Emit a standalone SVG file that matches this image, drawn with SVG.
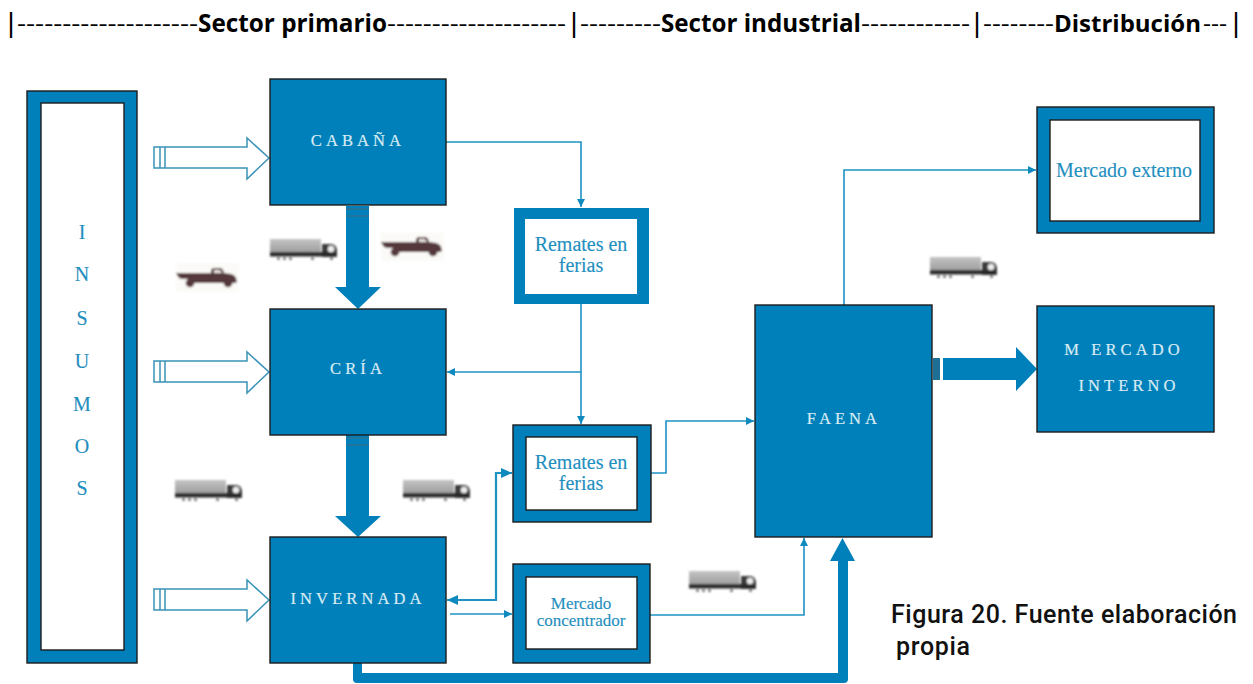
<svg xmlns="http://www.w3.org/2000/svg" xmlns:xlink="http://www.w3.org/1999/xlink" width="1253" height="684" viewBox="0 0 1253 684">
<style>
.box{fill:#0080ba;stroke:#1c1c1c;stroke-width:1.4}
.in{fill:#fff;stroke:#1c1c1c;stroke-width:1.4}
.lbl{font-family:"Liberation Serif",serif;font-size:16.5px;fill:#d9ecf4;text-anchor:middle;letter-spacing:4.1px;stroke:#d9ecf4;stroke-width:.2}
.dk{font-family:"Liberation Serif",serif;font-size:20px;fill:#1f8fc0;text-anchor:middle;stroke:#1f8fc0;stroke-width:.15}
.hd{font-family:"Open Sans",sans-serif;font-size:24px;fill:#000}
.hb{font-weight:700;font-size:25px}
.pp{font-family:"Liberation Sans",sans-serif;font-size:27px;fill:#000}
.cap{font-family:Roboto,sans-serif;font-size:25px;font-weight:500;fill:#111}
.thin{fill:none;stroke:#1f92c4;stroke-width:1.6}
.mid{fill:none;stroke:#1f92c4;stroke-width:2.2}
.hollow{fill:#fff;stroke:#3a93b8;stroke-width:1.5}
.fat{fill:#0080ba}
.st{stroke:#2a7192;stroke-width:1.3}
</style>
<defs>
<marker id="a" markerUnits="userSpaceOnUse" markerWidth="9" markerHeight="10" refX="8" refY="5" orient="auto-start-reverse"><path d="M0 1 8 5 0 9z" fill="#0f8abf"/></marker>
<marker id="b" markerUnits="userSpaceOnUse" markerWidth="12" markerHeight="12" refX="11" refY="6" orient="auto-start-reverse"><path d="M0 1 11 6 0 11z" fill="#0f8abf"/></marker>
<filter id="sf" x="-5%" y="-10%" width="110%" height="120%"><feGaussianBlur stdDeviation="0.9"/></filter>
<linearGradient id="tg" x1="0" y1="0" x2="0" y2="1"><stop offset="0" stop-color="#c4c4c4"/><stop offset="1" stop-color="#9c9c9c"/></linearGradient>
<g id="truck">
<rect x="0" y="1" width="51" height="14" fill="url(#tg)"/>
<path d="M52 6h9q5 0 6 6v7H52z" fill="#3a3a3a"/>
<circle cx="61" cy="11" r="3.2" fill="#eee"/>
<rect x="0" y="14" width="66" height="4.500" fill="#2b2b2b"/>
<g fill="#8a8a8a"><rect x="7" y="19" width="3" height="3"/><rect x="13" y="19" width="3" height="3"/><rect x="19" y="19" width="3" height="3"/><rect x="41" y="19" width="3" height="3"/><rect x="60" y="19" width="3" height="3"/></g>
</g>
<g id="pickup">
<rect x="0" y="0" width="63" height="29" fill="#fbfaf8"/>
<path d="M0 10H35V7q1-2 3-2h6q3 0 4 5l7 1q4 1 5 4l1 4-2 1H18l-5-4H6L3 15z" fill="#55393a"/>
<path d="M38 7h5q2 0 3 3h-8z" fill="#e8e4e0"/>
<circle cx="14" cy="20" r="4.300" fill="#55393a"/><circle cx="52" cy="20" r="4.300" fill="#55393a"/>
</g>
</defs>
<rect width="1253" height="684" fill="#fff"/>
<g id="header">
<text class="pp" x="7.500" y="32">|</text>
<text class="hd" x="17" y="32" textLength="181" lengthAdjust="spacingAndGlyphs">--------------------</text>
<text class="hd hb" x="198" y="32" textLength="189" lengthAdjust="spacingAndGlyphs">Sector primario</text>
<text class="hd" x="387" y="32" textLength="179" lengthAdjust="spacingAndGlyphs">--------------------</text>
<text class="pp" x="570.500" y="32">|</text>
<text class="hd" x="580" y="32" textLength="81" lengthAdjust="spacingAndGlyphs">---------</text>
<text class="hd hb" x="661" y="32" textLength="200" lengthAdjust="spacingAndGlyphs">Sector industrial</text>
<text class="hd" x="861" y="32" textLength="109" lengthAdjust="spacingAndGlyphs">------------</text>
<text class="pp" x="973.500" y="32">|</text>
<text class="hd" x="983" y="32" textLength="71" lengthAdjust="spacingAndGlyphs">--------</text>
<text class="hd hb" style="font-size:24px" x="1054" y="32">Distribución</text>
<text class="hd" x="1203" y="32" textLength="24" lengthAdjust="spacingAndGlyphs">---</text>
<text class="pp" x="1232.500" y="32">|</text>
</g>
<g id="connectors">
<path class="thin" d="M446 142H581V207" marker-end="url(#a)"/>
<path class="thin" d="M581 304V424" marker-end="url(#a)"/>
<path class="thin" d="M581 372H447" marker-end="url(#a)"/>
<path class="thin" d="M651 473H666V421H754" marker-end="url(#a)"/>
<path class="mid" d="M447 600H496V473H512" marker-start="url(#b)" marker-end="url(#b)"/>
<path class="thin" d="M450 614H512" marker-end="url(#a)"/>
<path class="thin" d="M650 615H804V538" marker-end="url(#a)"/>
<path class="thin" d="M844 305V170H1036" marker-end="url(#a)"/>
<g id="hollow-arrows">
<g id="h1"><path class="hollow" d="M154 147H247V138L269 158 247 179V168H154z"/><path class="hollow" d="M160 147V168M165 147V168"/></g>
<use xlink:href="#h1" href="#h1" y="214"/>
<use xlink:href="#h1" href="#h1" y="442"/>
</g>
<path class="fat" d="M346 206H369V287H381L358 309 335 287H346z"/>
<path class="st" d="M346 209H369M346 216H369"/>
<path class="fat" d="M346 435H369V516H381L358 537 335 516H346z"/>
<path class="st" d="M346 438H369M346 445H369"/>
<path class="fat" d="M943 358H1016V347L1037 369 1016 391V380H943z"/>
<rect x="933" y="358" width="7" height="22" fill="#1d6f96"/>
<path d="M353 663V679q0 4 4 4H844q4 0 4-4V561H855L842.500 538 830 561H838V673H362V663z" class="fat"/>
</g>
<g id="insumos"><rect class="box" x="27" y="91" width="110" height="572"/><rect class="in" x="41" y="103" width="83" height="547"/>
<text class="dk" style="font-size:20px"><tspan x="82" y="239">I</tspan><tspan x="82" y="281">N</tspan><tspan x="82" y="325">S</tspan><tspan x="82" y="368">U</tspan><tspan x="82" y="411">M</tspan><tspan x="82" y="453">O</tspan><tspan x="82" y="495">S</tspan></text></g>
<g id="cabana"><rect class="box" x="270" y="79" width="176" height="126"/><text class="lbl" x="358" y="146">CABAÑA</text></g>
<g id="cria"><rect class="box" x="270" y="309" width="176" height="126"/><text class="lbl" x="358" y="374">CRÍA</text></g>
<g id="invernada"><rect class="box" x="270" y="537" width="176" height="126"/><text class="lbl" x="358" y="604">INVERNADA</text></g>
<g id="remates1"><rect x="514" y="208" width="135" height="96" fill="#0080ba"/><rect x="525" y="219" width="112" height="75" fill="#fff"/><text class="dk" x="581" y="251">Remates en</text><text class="dk" x="581" y="272">ferias</text></g>
<g id="remates2"><rect class="box" x="513" y="425" width="138" height="97"/><rect class="in" x="526" y="437" width="111" height="73"/><text class="dk" x="581" y="469">Remates en</text><text class="dk" x="581" y="490">ferias</text></g>
<g id="concentrador"><rect class="box" x="513" y="564" width="137" height="99"/><rect class="in" x="526" y="577" width="111" height="72"/><text class="dk" style="font-size:17px" x="581" y="609">Mercado</text><text class="dk" style="font-size:17px" x="581" y="626">concentrador</text></g>
<g id="faena"><rect class="box" x="755" y="305" width="177" height="232"/><text class="lbl" x="844" y="424">FAENA</text></g>
<g id="externo"><rect class="box" x="1037" y="107" width="177" height="126"/><rect class="in" x="1050" y="120" width="150" height="101"/><text class="dk" x="1124" y="177">Mercado externo</text></g>
<g id="interno"><rect class="box" x="1037" y="306" width="177" height="126"/><text class="lbl" x="1124" y="355">M ERCADO</text><text class="lbl" x="1129" y="391">INTERNO</text></g>
<g id="vehicles" filter="url(#sf)">
<use xlink:href="#truck" href="#truck" x="270" y="238"/>
<use xlink:href="#truck" href="#truck" x="175" y="479"/>
<use xlink:href="#truck" href="#truck" x="403" y="479"/>
<use xlink:href="#truck" href="#truck" x="689" y="570"/>
<use xlink:href="#truck" href="#truck" x="930" y="256"/>
<use xlink:href="#pickup" href="#pickup" x="176" y="263"/>
<use xlink:href="#pickup" href="#pickup" x="381" y="232"/>
</g>
<g id="caption"><text class="cap" x="891" y="623" textLength="346" lengthAdjust="spacing">Figura 20. Fuente elaboración</text><text class="cap" x="896" y="655" textLength="74" lengthAdjust="spacing">propia</text></g>
</svg>
